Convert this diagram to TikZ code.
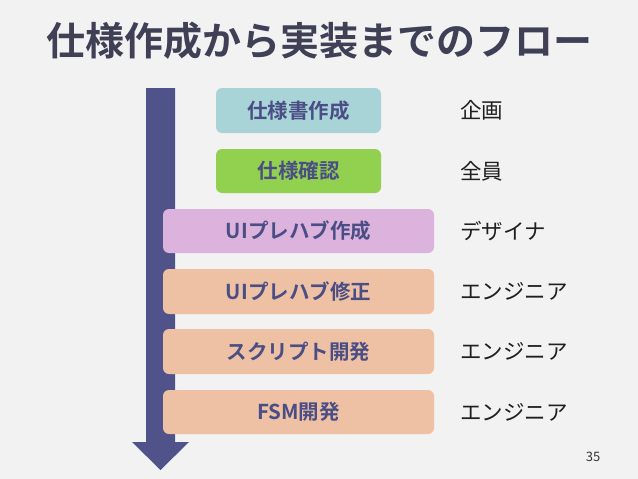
\documentclass[tikz,border=0pt]{standalone}
\usepackage{fontspec}
\newfontfamily\jp{Noto Sans CJK JP}
\newfontfamily\jpb{Noto Sans CJK JP Bold}
\definecolor{bg}{HTML}{F2F2F2}
\definecolor{titlec}{HTML}{3F3F55}
\definecolor{boxtext}{HTML}{4B4D85}
\definecolor{arrowc}{HTML}{50528A}
\definecolor{cteal}{HTML}{A8D4D8}
\definecolor{cgreen}{HTML}{92D050}
\definecolor{cpink}{HTML}{DBB3DD}
\definecolor{corange}{HTML}{EEC1A5}
\begin{document}
\begin{tikzpicture}[x=1pt,y=-1pt,
  stepbox/.style={rounded corners=6pt, inner sep=0pt, text=boxtext,
    font=\jpb\fontsize{20.5}{20.5}\selectfont},
  role/.style={anchor=west, inner sep=0pt, text=black!88,
    font=\jp\fontsize{21.5}{21.5}\selectfont}]
\useasboundingbox (0,0) rectangle (638,479);
\fill[bg] (0,0) rectangle (638,479);
\node[anchor=west, inner sep=0pt, text=titlec, font=\jpb\fontsize{39}{39}\selectfont] (title) at (46,41) {仕様作成から実装までのフロー};
% arrow
\fill[arrowc] (146,88) -- (175,88) -- (175,442) -- (189,442) -- (160.5,470) -- (132,442) -- (146,442) -- cycle;
% boxes
\node[stepbox, fill=cteal, minimum width=165pt, minimum height=45pt] (b1) at (298.5,110.5) {仕様書作成};
\node[stepbox, fill=cgreen, minimum width=165pt, minimum height=44pt] (b2) at (298.5,171) {仕様確認};
\node[stepbox, fill=cpink, minimum width=271pt, minimum height=44pt] (b3) at (298.5,231) {UIプレハブ作成};
\node[stepbox, fill=corange, minimum width=271pt, minimum height=45pt] (b4) at (298.5,291.5) {UIプレハブ修正};
\node[stepbox, fill=corange, minimum width=271pt, minimum height=45pt] (b5) at (298.5,351.5) {スクリプト開発};
\node[stepbox, fill=corange, minimum width=271pt, minimum height=44pt] (b6) at (298.5,412) {FSM開発};
% roles
\node[role] (r1) at (460,110.5) {企画};
\node[role] (r2) at (460,171) {全員};
\node[role] (r3) at (460,231) {デザイナ};
\node[role] (r4) at (460,291.5) {エンジニア};
\node[role] (r5) at (460,351.5) {エンジニア};
\node[role] (r6) at (460,412) {エンジニア};
\node[inner sep=0pt, text=black!80, font=\jp\fontsize{13}{13}\selectfont] (pg) at (593,457) {35};
\end{tikzpicture}
\end{document}
